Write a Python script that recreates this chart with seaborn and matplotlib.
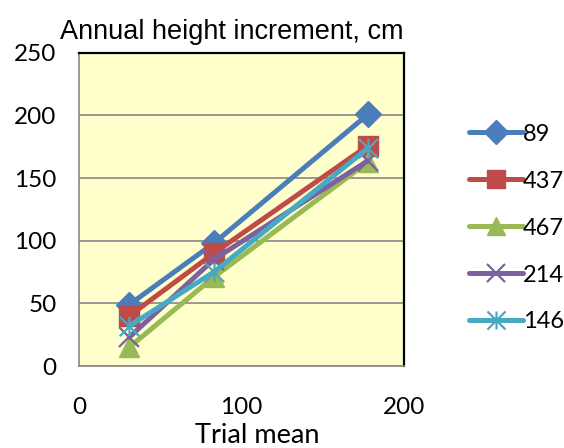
import numpy as np
import pandas as pd
import seaborn as sns
import matplotlib.pyplot as plt
from matplotlib.path import Path
from matplotlib.lines import Line2D

trial_mean = [31, 83, 178]
series_names = ["89", "437", "467", "214", "146"]
h89 = [49, 98, 201]
h437 = [40, 90, 176]
h467 = [15, 71, 163]
h214 = [23, 85, 164]
h146 = [32, 75, 174]
colors = ["#4A7EBB", "#BE4B48", "#98B954", "#7D60A0", "#46AAC5"]

rows = []
for name, vals in zip(series_names, [h89, h437, h467, h214, h146]):
    for x, y in zip(trial_mean, vals):
        rows.append({"Trial mean": x, "value": y, "line": name})
df = pd.DataFrame(rows)

sns.set_theme(style="white")
plt.rcParams["font.family"] = ["Lato", "DejaVu Sans"]
plt.rcParams["text.color"] = "black"

# Excel-style star: an x with a vertical stroke through it
star = Path(
    [(-1, -1), (1, 1), (-1, 1), (1, -1), (0, -1), (0, 1)],
    [Path.MOVETO, Path.LINETO, Path.MOVETO, Path.LINETO, Path.MOVETO, Path.LINETO],
)
markers = ["D", "s", "^", "x", star]
line_art = [False, False, False, True, True]
sizes = [13, 14, 14, 14, 14]
lw = 3.6

fig = plt.figure(figsize=(5.64, 4.48), dpi=100)
ax = fig.add_axes([0.140, 0.183, 0.576, 0.699])
ax.set_facecolor("#FFFFCC")

sns.lineplot(
    data=df, x="Trial mean", y="value", hue="line",
    hue_order=series_names, palette=colors,
    linewidth=lw, ax=ax, legend=False,
)
for line, c, m, la, s in zip(ax.lines, colors, markers, line_art, sizes):
    line.set_marker(m)
    line.set_markersize(s)
    line.set_markeredgecolor(c)
    line.set_markerfacecolor(c)
    line.set_markeredgewidth(1.6 if la else 1)

ax.set_xlim(0, 200)
ax.set_ylim(0, 250)
ax.set_xticks([0, 100, 200])
ax.set_yticks([0, 50, 100, 150, 200, 250])
ax.yaxis.grid(True, color="#888888", linewidth=1.2)
ax.set_axisbelow(True)
for side in ["top", "right"]:
    ax.spines[side].set_color("black")
    ax.spines[side].set_linewidth(1.6)
for side in ["left", "bottom"]:
    ax.spines[side].set_color("#888888")
    ax.spines[side].set_linewidth(1.2)
ax.tick_params(axis="both", which="both", direction="out", length=6, width=1.2,
               color="#888888", labelsize=17.5, labelcolor="black")
ax.tick_params(axis="y", pad=10)
ax.tick_params(axis="x", pad=16)
ax.set_xlabel("Trial mean", fontsize=19.5, labelpad=4, color="black")
ax.xaxis.label.set_x(0.548)
ax.set_ylabel("")
ax.set_title("Annual height increment, cm", fontsize=19.5, color="black",
             family=["Liberation Sans", "DejaVu Sans"], pad=10, x=0.471)

handles = []
for c, m, la, s in zip(colors, markers, line_art, sizes):
    handles.append(Line2D([0], [0], color=c, linewidth=lw, marker=m,
                          markersize=s - 1, markerfacecolor=c, markeredgecolor=c,
                          markeredgewidth=1.6 if la else 1))
leg = fig.legend(handles, series_names, loc="center left",
                 bbox_to_anchor=(0.81, 0.491), frameon=False, fontsize=17,
                 handlelength=2.3, handletextpad=0.0, labelspacing=1.1,
                 borderpad=0, labelcolor="black")

fig.savefig("out.png", dpi=100)
